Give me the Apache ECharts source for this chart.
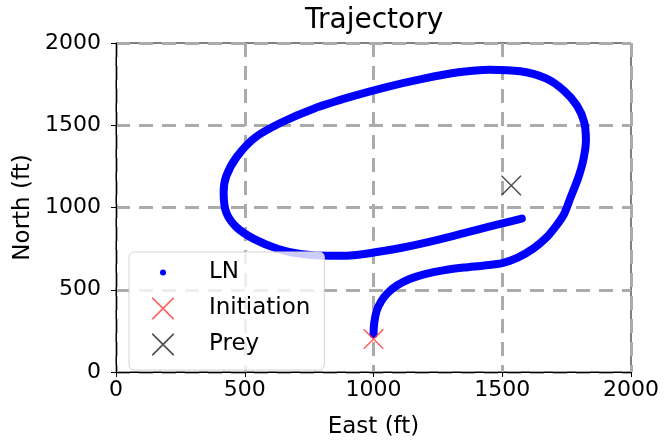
<!DOCTYPE html>
<html>
<head>
<meta charset="utf-8">
<script src="https://cdn.jsdelivr.net/npm/echarts@6/dist/echarts.min.js"></script>
<style>html,body{margin:0;padding:0;background:#fff;overflow:hidden;}#c{width:664px;height:444px;}</style>
</head>
<body>
<div id="c"></div>
<script>
// Trajectory (LN) points: East (ft), North (ft)
var eastTrack = [1000,1003,1012,1030,1055,1090,1140,1200,1270,1350,1430,1500,1560,1620,1670,1710,1740,1765,1795,1815,1825,1818,1790,1740,1670,1570,1450,1330,1190,1050,910,770,640,540,470,428,418,428,468,537,630,716,826,909,1000,1115,1253,1390,1500,1576];
var northTrack = [230,300,370,430,480,525,565,595,618,635,648,662,695,750,815,890,960,1060,1180,1290,1410,1520,1620,1710,1785,1828,1838,1822,1782,1732,1672,1602,1515,1425,1310,1190,1090,970,880,808,748,718,706,708,726,757,805,860,903,933];
var initiationPoint = [1000, 200];
var preyPoint = [1535, 1134];
var xTicks = [0, 500, 1000, 1500, 2000];
var yTicks = [0, 500, 1000, 1500, 2000];

var xPath = 'path://M0,0 L1.06,0 L20,18.94 L20,20 L18.94,20 L0,1.06 Z M20,0 L20,1.06 L1.06,20 L0,20 L0,18.94 L18.94,0 Z';
var dotPath = 'path://M0,0 M22,22 M8,11 A3,3 0 1 0 14,11 A3,3 0 1 0 8,11 Z';

var lnData = eastTrack.map(function (e, i) { return [e, northTrack[i]]; });

var font = 'DejaVu Sans';
var gridStyle = { color: '#ababab', width: 3, type: [14, 9] };
var plain = function (v) { return String(v); };

var chart = echarts.init(document.getElementById('c'), null, { width: 664, height: 444 });
chart.setOption({
  animation: false,
  title: {
    text: 'Trajectory', left: 300, top: 2,
    textStyle: { fontFamily: font, fontSize: 28, fontWeight: 'normal', color: '#000' }
  },
  grid: { left: 116, top: 43, width: 515, height: 335, show: true, borderColor: '#000', borderWidth: 1 },
  xAxis: {
    type: 'value', min: xTicks[0], max: xTicks[xTicks.length - 1], interval: 500,
    name: 'East (ft)', nameLocation: 'middle', nameGap: 44,
    nameTextStyle: { fontFamily: font, fontSize: 23, color: '#000' },
    axisLine: { show: true, lineStyle: { color: '#000', width: 1 } },
    axisTick: { show: true, inside: false, length: 5, lineStyle: { color: '#000' } },
    axisLabel: { fontFamily: font, fontSize: 22, color: '#000', margin: 7, formatter: plain },
    splitLine: { show: true, lineStyle: gridStyle }
  },
  yAxis: {
    type: 'value', min: yTicks[0], max: yTicks[yTicks.length - 1], interval: 500,
    name: 'North (ft)', nameLocation: 'middle', nameGap: 73,
    nameTextStyle: { fontFamily: font, fontSize: 23, color: '#000' },
    axisLine: { show: true, lineStyle: { color: '#000', width: 1 } },
    axisTick: { show: true, inside: false, length: 5, lineStyle: { color: '#000' } },
    axisLabel: { fontFamily: font, fontSize: 22, color: '#000', margin: 15, formatter: plain },
    splitLine: { show: true, lineStyle: gridStyle }
  },
  legend: {
    orient: 'vertical', left: 129, top: 252,
    padding: [9, 14, 14, 23],
    itemWidth: 22, itemHeight: 22, itemGap: 13,
    backgroundColor: 'rgba(255,255,255,0.8)',
    borderColor: '#d4d4d4', borderWidth: 1, borderRadius: 5,
    textStyle: { fontFamily: font, fontSize: 23, color: '#000', lineHeight: 22, padding: [0, 0, 0, 30] },
    data: [
      { name: 'LN', icon: dotPath },
      { name: 'Initiation', icon: xPath },
      { name: 'Prey', icon: xPath }
    ]
  },
  series: [
    {
      name: 'LN', type: 'line', data: lnData, smooth: 0.3, symbol: 'none',
      color: '#0000ff',
      lineStyle: { color: '#0000ff', width: 8, cap: 'round', join: 'round' },
      itemStyle: { color: '#0000ff' },
      z: 2
    },
    {
      name: 'Initiation', type: 'scatter', data: [initiationPoint],
      symbol: xPath, symbolSize: 20, color: '#ff3b3b',
      itemStyle: { color: '#ff3b3b' }, z: 3
    },
    {
      name: 'Prey', type: 'scatter', data: [preyPoint],
      symbol: xPath, symbolSize: 20, color: '#222222',
      itemStyle: { color: '#222222' }, z: 3
    }
  ]
});
</script>
</body>
</html>
